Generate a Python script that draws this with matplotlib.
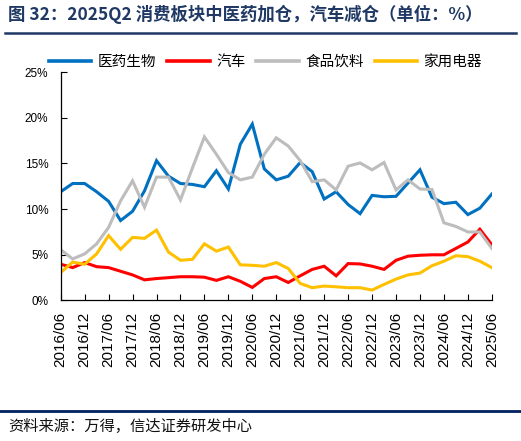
import matplotlib
matplotlib.use("Agg")
import matplotlib.pyplot as plt
import pandas as pd

#region data
quarters = [p.strftime("%Y/%m") for p in pd.period_range("2016-06", "2025-06", freq="3M")]

pharma = [11.9, 12.8, 12.8, 11.9, 10.85, 8.75, 9.76, 12.0, 15.3, 13.6,
          12.8, 12.7, 12.45, 14.2, 12.2, 17.1, 19.3, 14.4, 13.2, 13.6,
          15.1, 14.1, 11.1, 11.9, 10.5, 9.5, 11.5, 11.35, 11.4, 12.85,
          14.3, 11.3, 10.6, 10.75, 9.4, 10.1, 11.65]
auto = [3.97, 3.6, 4.15, 3.7, 3.6, 3.2, 2.8, 2.26, 2.4, 2.5,
        2.6, 2.6, 2.55, 2.2, 2.6, 2.1, 1.43, 2.4, 2.6, 1.97,
        2.7, 3.4, 3.75, 2.7, 4.04, 4.0, 3.75, 3.4, 4.4, 4.85,
        4.95, 5.0, 5.0, 5.7, 6.4, 7.8, 6.1]
food = [5.56, 4.55, 5.1, 6.2, 8.0, 10.9, 13.1, 10.2, 13.5, 13.5,
        11.0, 14.5, 17.9, 16.0, 14.0, 13.2, 13.5, 16.0, 17.8, 16.9,
        15.3, 13.0, 13.2, 12.1, 14.7, 15.05, 14.3, 15.1, 12.1, 13.2,
        12.2, 12.15, 8.5, 8.1, 7.5, 7.5, 5.7]
appliance = [3.06, 4.2, 3.97, 5.1, 7.1, 5.6, 6.9, 6.8, 7.7, 5.3,
             4.4, 4.5, 6.2, 5.4, 5.85, 3.9, 3.85, 3.75, 4.15, 3.5,
             1.87, 1.4, 1.58, 1.5, 1.4, 1.4, 1.14, 1.76, 2.34, 2.8,
             3.0, 3.8, 4.3, 4.9, 4.8, 4.3, 3.6]

series_names = ["医药生物", "汽车", "食品饮料", "家用电器"]
series_colors = ["#0070C0", "#FF0000", "#BDBDBD", "#FFC000"]
y_ticks = [0, 5, 10, 15, 20, 25]
#endregion

plt.rcParams["font.family"] = ["Liberation Sans", "Noto Sans CJK SC", "DejaVu Sans"]
cjk = ["Noto Sans CJK SC", "DejaVu Sans"]
navy = "#1F3864"

fig = plt.figure(figsize=(5.21, 4.41), dpi=100)
ax = fig.add_axes([0.1165, 0.3186, 0.8275, 0.5181])

x = list(range(len(quarters)))
for vals, name, col in zip([pharma, auto, food, appliance], series_names, series_colors):
    ax.plot(x, vals, color=col, lw=2.2, label=name, solid_joinstyle="miter")

ax.set_xlim(0, len(quarters) - 1)
ax.set_ylim(0, 25)
ax.set_yticks(y_ticks)
ax.set_yticklabels([f"{v}%" for v in y_ticks], fontsize=8.5)
ax.set_xticks(x[::2])
ax.set_xticklabels(quarters[::2], rotation=90, fontsize=11)
ax.tick_params(axis="both", direction="in", length=4, width=0.8)
ax.tick_params(axis="x", pad=8)
ax.tick_params(axis="y", pad=9)
for side in ["top", "right"]:
    ax.spines[side].set_visible(False)
for side in ["left", "bottom"]:
    ax.spines[side].set_linewidth(0.9)

leg = ax.legend(loc="center left", bbox_to_anchor=(0.094, 0.859), bbox_transform=fig.transFigure,
                ncol=4, frameon=False, borderpad=0, borderaxespad=0,
                handlelength=2.9, handletextpad=0.45, columnspacing=0.75,
                prop={"family": cjk, "size": 10.5})
for h in leg.get_lines():
    h.set_linewidth(2.6)

# header and footer
fig.text(0.015, 0.968, "图 32：2025Q2 消费板块中医药加仓，汽车减仓（单位：%）",
         family=cjk, fontsize=12.5, fontweight="bold", color=navy, va="center")
fig.add_artist(plt.Line2D([0.01, 0.99], [0.925, 0.925], color=navy, lw=1.8))
fig.add_artist(plt.Line2D([0.0, 1.0], [0.0687, 0.0687], color="#002060", lw=2.0))
fig.text(0.015, 0.032, "资料来源：万得，信达证券研发中心", family=cjk, fontsize=11,
         style="italic", va="center", color="#111111")

fig.savefig("out.png", dpi=100)
